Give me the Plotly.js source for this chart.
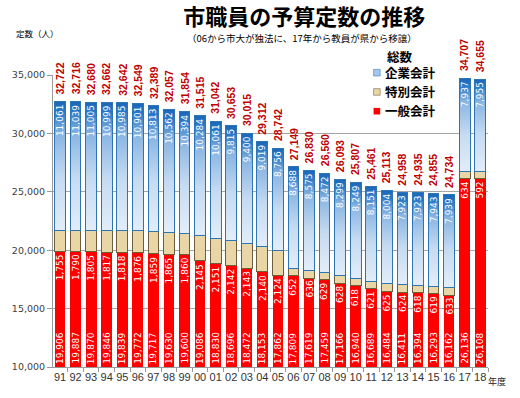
<!DOCTYPE html>
<html><head><meta charset="utf-8">
<script src="https://cdn.plot.ly/plotly-3.0.1.min.js"></script>
<style>body{margin:0;background:#fff}#chart{width:520px;height:398px}</style>
</head><body><div id="chart"></div>
<script>
const years = ['91','92','93','94','95','96','97','98','99','00','01','02','03','04','05','06','07','08','09','10','11','12','13','14','15','16','17','18'];
const general = [19906,19887,19870,19846,19839,19772,19717,19630,19600,19086,18830,18696,18472,18153,17862,17809,17619,17459,17166,16940,16689,16484,16411,16394,16293,16162,26136,26108];
const special = [1755,1790,1805,1817,1818,1876,1859,1865,1860,2145,2151,2142,2143,2140,2124,652,636,629,628,618,621,625,624,618,619,633,634,592];
const enterprise = [11061,11039,11005,10999,10985,10901,10813,10562,10394,10284,10061,9815,9400,9019,8756,8688,8575,8472,8299,8249,8151,8004,7923,7923,7943,7939,7937,7955];
const totals = [32722,32716,32680,32662,32642,32549,32389,32057,31854,31515,31042,30653,30015,29312,28742,27149,26830,26560,26093,25807,25461,25113,24958,24935,24855,24734,34707,34655];
const seriesNames = ['一般会計','特別会計','企業会計'];
const yRange = [10000, 35000];

const fmt = v => v.toLocaleString('en-US');
const inTextFont = {family:'DejaVu Sans', size:9, color:'#ffffff'};

const traces = [
  {type:'bar', name:seriesNames[0], x:years, y:general,
   marker:{color:'#ff0000', line:{width:0}},
   textposition:'none', hoverinfo:'skip'},
  {type:'bar', name:seriesNames[1], x:years, y:special,
   marker:{color:'#e8d6a6', line:{color:'#6e5e3c', width:1}},
   textposition:'none', hoverinfo:'skip'},
  {type:'bar', name:seriesNames[2], x:years, y:enterprise,
   marker:{color:'#a6c8ec', line:{color:'#2e75b6', width:1}},
   texttemplate:'%{y:,.0f}', textposition:'inside', insidetextanchor:'end',
   textangle:-90, constraintext:'none', textfont:inTextFont, hoverinfo:'skip'}
];

const annotations = [];
years.forEach((yr,i)=>{
  annotations.push({x:i, y:yRange[0], xref:'x', yref:'y', text:fmt(general[i]),
    showarrow:false, textangle:-90, yanchor:'bottom', xanchor:'center', yshift:1,
    font:{family:'DejaVu Sans', size:9, color:'#ffffff'}});
  annotations.push({x:i, y:general[i], xref:'x', yref:'y', text:fmt(special[i]),
    showarrow:false, textangle:-90, yanchor:'top', xanchor:'center', yshift:-1,
    font:{family:'DejaVu Sans', size:9, color:'#ffffff'}});
  annotations.push({x:i, y:totals[i], xref:'x', yref:'y', text:fmt(totals[i]),
    showarrow:false, textangle:-90, yanchor:'bottom', xanchor:'center', yshift:5,
    font:{family:'Liberation Sans', size:10.5, color:'#c00000', weight:'bold'}});
});
annotations.push({xref:'paper', yref:'paper', x:0.572, y:1.127, text:'（06から市大が独法に、17年から教員が県から移譲）',
  showarrow:false, xanchor:'center', yanchor:'middle', font:{family:'Noto Sans CJK JP', size:9.5, color:'#000'}});
annotations.push({xref:'paper', yref:'paper', x:-0.09, y:1.144, text:'定数（人）',
  showarrow:false, xanchor:'left', yanchor:'middle', font:{family:'Noto Sans CJK JP', size:8.5, color:'#000'}});
annotations.push({xref:'paper', yref:'paper', x:0.763, y:1.062, text:'総数',
  showarrow:false, xanchor:'left', yanchor:'middle', font:{family:'Noto Sans CJK JP', size:12.5, color:'#000', weight:'bold'}});
annotations.push({xref:'paper', yref:'paper', x:0.995, y:0, yshift:-14, text:'年度',
  showarrow:false, xanchor:'left', yanchor:'middle', font:{family:'Noto Sans CJK JP', size:9, color:'#222'}});

const layout = {
  width:520, height:398,
  margin:{l:53, r:32, t:75, b:31},
  paper_bgcolor:'#ffffff', plot_bgcolor:'#ffffff',
  barmode:'stack', bargap:0.31,
  showlegend:true,
  title:{text:'市職員の予算定数の推移', x:0.585, xref:'container', y:0.956, yref:'container', xanchor:'center', yanchor:'middle',
    font:{family:'Noto Sans CJK JP', size:22, color:'#000', weight:'bold'}},
  legend:{x:0.671, y:1.058, xanchor:'left', yanchor:'top', traceorder:'reversed',
    bgcolor:'rgba(0,0,0,0)', borderwidth:0, itemwidth:30,
    font:{family:'Noto Sans CJK JP', size:12.5, color:'#000', weight:'bold'}},
  xaxis:{type:'category', range:[-0.45, 27.5], showline:true, linecolor:'#999', linewidth:1,
    ticks:'outside', tickson:'boundaries', ticklen:4, tickcolor:'#999', tickangle:0,
    tickfont:{family:'Liberation Sans', size:11, color:'#333'}, showgrid:false, fixedrange:true},
  yaxis:{range:yRange, tickvals:[10000,15000,20000,25000,30000,35000], tickformat:',d',
    showline:true, linecolor:'#999', linewidth:1, ticks:'outside', ticklen:5, tickcolor:'#999',
    showgrid:true, gridcolor:'#a6a6a6', gridwidth:1, zeroline:false,
    tickfont:{family:'DejaVu Sans', size:9.5, color:'#404040'}, fixedrange:true},
  annotations:annotations
};

Plotly.newPlot('chart', traces, layout, {staticPlot:true, displayModeBar:false}).then(gd=>{
  const ns='http://www.w3.org/2000/svg';
  const svg = gd.querySelector('.main-svg');
  let defs = svg.querySelector('defs');
  if(!defs){defs=document.createElementNS(ns,'defs'); svg.insertBefore(defs, svg.firstChild);}
  const lg=document.createElementNS(ns,'linearGradient');
  lg.setAttribute('id','blueGrad'); lg.setAttribute('x1','0'); lg.setAttribute('y1','0'); lg.setAttribute('x2','0'); lg.setAttribute('y2','1');
  [['0','#1a66b8'],['0.08','#2a78c8'],['0.25','#8ab5e3'],['0.6','#c6dbf1'],['1','#e3edf8']].forEach(([o,c])=>{
    const s=document.createElementNS(ns,'stop'); s.setAttribute('offset',o); s.setAttribute('stop-color',c); lg.appendChild(s);
  });
  defs.appendChild(lg);
  const barTraces = gd.querySelectorAll('.barlayer .trace.bars');
  if(barTraces[2]) barTraces[2].querySelectorAll('path').forEach(p=>{p.style.fill='url(#blueGrad)';});
  gd.querySelectorAll('.legend .legendpoints path').forEach(p=>{
    p.setAttribute('transform','translate(32,0) scale(0.55)');
  });
});
</script>
</body></html>
